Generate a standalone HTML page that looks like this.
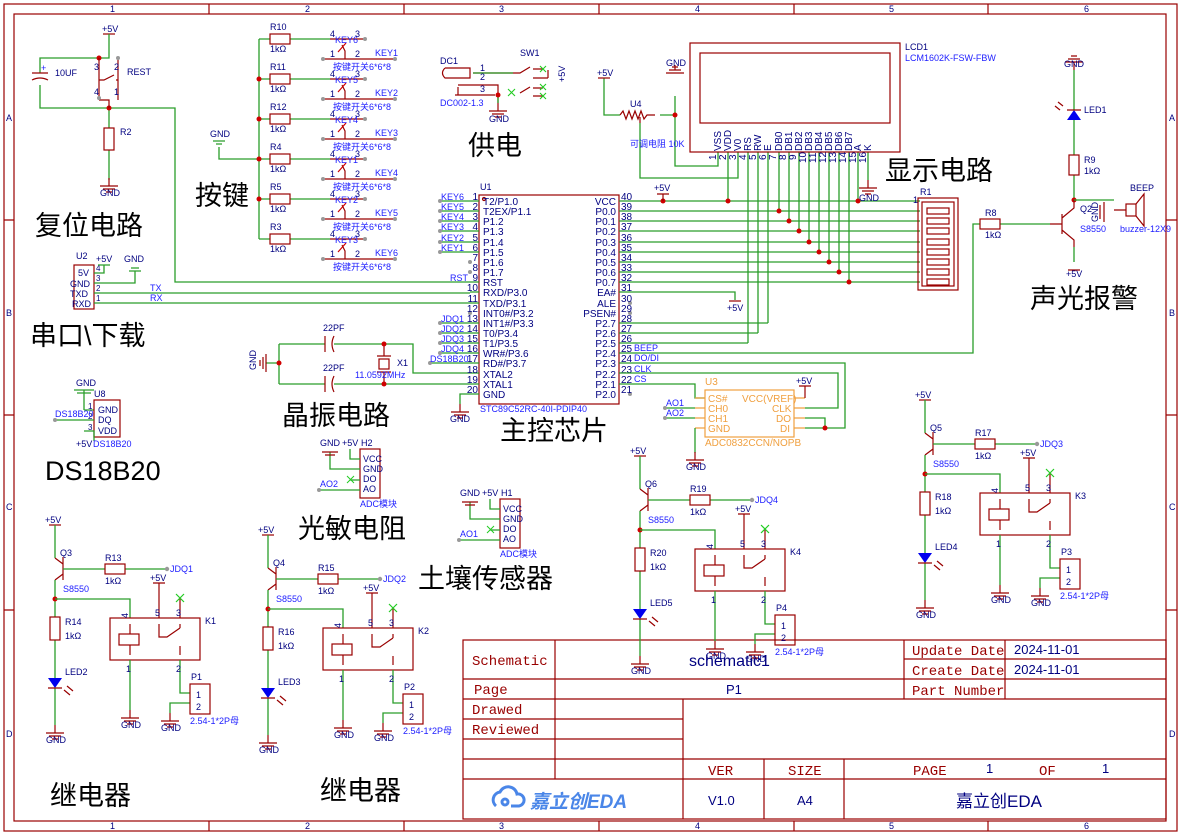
<!DOCTYPE html>
<html><head><meta charset="utf-8">
<style>
html,body{margin:0;padding:0;background:#fff;}
svg{display:block;font-family:"Liberation Sans","Noto Sans CJK SC",sans-serif;}
.w{stroke:#2a9d2a;stroke-width:1.3;fill:none}
.c{stroke:#990000;stroke-width:1.2;fill:none}
.f{stroke:#b02020;stroke-width:1.2;fill:none}
.t{font-size:9px;fill:#000080}
.b{font-size:9px;fill:#2020ff}
.p{font-size:10px;fill:#000080}
.big{font-size:27px;fill:#000;font-family:"Liberation Sans","Noto Sans CJK SC",sans-serif}
.tb{font-family:"Liberation Mono",monospace;font-size:14px;fill:#990000}
.o{stroke:#f0a040;stroke-width:1.2;fill:none}
.ot{font-size:10px;fill:#f0a040}
.dot{fill:#d00000}
.g{fill:#999}
</style></head><body>
<svg width="1181" height="835" viewBox="0 0 1181 835" xmlns="http://www.w3.org/2000/svg">
<defs>
<g id="gnd"><path d="M0,0v8M-9,8h18M-6,11h12M-3,14h6" class="c"/></g>
<g id="rly">
 <path d="M-6,5h12" class="c"/>
 <path d="M0,5v33" class="w"/>
 <path d="M0,38l8,6M8,37v23M8,54l-8,6" class="c"/>
 <path d="M8,49h42M70,49h42" class="w"/>
 <rect x="50" y="44" width="20" height="10" class="c"/>
 <circle cx="112" cy="49" r="2.2" class="g"/>
 <path d="M0,60v37M0,120v38M0,168v37" class="w"/>
 <rect x="-5" y="97" width="10" height="23" class="c"/>
 <polygon points="-7,158 7,158 0,168" fill="#0000ee"/>
 <path d="M-7,168h14M9,170l6,5M12,166l6,5" class="c"/>
 <use href="#gnd" x="0" y="205"/>
 <circle cx="0" cy="79" r="2.5" class="dot"/>
 <path d="M0,79h75v19" class="w"/>
 <rect x="55" y="98" width="90" height="42" class="c"/>
 <rect x="64" y="114" width="20" height="11" class="c"/>
 <path d="M75,104v10M75,125v10M104,104v13h8l13,-9M125,104v4M125,126v9" class="c"/>
 <path d="M104,98v-35M98,63h12" class="c"/>
 <path d="M125,98v-20" class="c"/>
 <path d="M121,74l8,8M129,74l-8,8" stroke="#22cc22" stroke-width="1.2"/>
 <path d="M75,140v50M125,140v33h10M135,183h-20v10" class="w"/>
 <use href="#gnd" x="75" y="190"/>
 <use href="#gnd" x="115" y="193"/>
 <rect x="135" y="164" width="20" height="30" class="c"/>
 <text x="141" y="178" class="t" font-size="10">1</text><text x="141" y="190" class="t" font-size="10">2</text>
 <text x="135" y="204" class="b" font-size="8">2.54-1*2P母</text>
 <text x="-10" y="3" class="t">+5V</text>
 <text x="95" y="61" class="t">+5V</text>
 <text x="8" y="72" class="b">S8550</text>
 <text x="50" y="64" class="t">1kΩ</text>
 <text x="10" y="119" class="t">1kΩ</text>
 <text x="-9" y="223" class="t">GND</text>
 <text x="66" y="208" class="t">GND</text>
 <text x="106" y="211" class="t">GND</text>
 <text x="71" y="96" class="t" transform="rotate(-90 73 96)">4</text>
 <text x="100" y="96" class="t">5</text><text x="121" y="96" class="t">3</text>
 <text x="71" y="152" class="t">1</text><text x="121" y="152" class="t">2</text>
</g>
</defs>

<!-- frame -->
<rect x="4" y="4" width="1173" height="827" class="c"/>
<rect x="14" y="14" width="1152" height="807" class="c"/>
<path d="M209,4v10M404,4v10M599,4v10M794,4v10M988,4v10M209,821v10M404,821v10M599,821v10M794,821v10M988,821v10M4,220h10M4,415h10M4,610h10M1166,220h11M1166,415h11M1166,610h11" class="c"/>
<g class="t" font-size="8" fill="#600">
<text x="110" y="12">1</text><text x="305" y="12">2</text><text x="499" y="12">3</text><text x="695" y="12">4</text><text x="889" y="12">5</text><text x="1084" y="12">6</text>
<text x="110" y="829">1</text><text x="305" y="829">2</text><text x="499" y="829">3</text><text x="695" y="829">4</text><text x="889" y="829">5</text><text x="1084" y="829">6</text>
<text x="6" y="121">A</text><text x="6" y="316">B</text><text x="6" y="510">C</text><text x="6" y="737">D</text>
<text x="1169" y="121">A</text><text x="1169" y="316">B</text><text x="1169" y="510">C</text><text x="1169" y="737">D</text>
</g>

<!-- title block -->
<g class="c">
<rect x="463" y="640" width="703" height="179"/>
<path d="M904,659h262M463,679h703M463,699h703M463,719h220M463,739h220M463,759h703M463,779h703M555,640v139M904,640v59M1005,640v59M683,699v120M764,759v60M844,759v60"/>
</g>
<text x="472" y="665" class="tb">Schematic</text>
<text x="474" y="694" class="tb">Page</text>
<text x="472" y="714" class="tb">Drawed</text>
<text x="472" y="734" class="tb">Reviewed</text>
<text x="912" y="655" class="tb">Update Date</text>
<text x="912" y="675" class="tb">Create Date</text>
<text x="912" y="695" class="tb">Part Number</text>
<text x="708" y="775" class="tb">VER</text>
<text x="788" y="775" class="tb">SIZE</text>
<text x="913" y="775" class="tb">PAGE</text>
<text x="1039" y="775" class="tb">OF</text>
<text x="986" y="773" font-size="13" fill="#000080">1</text>
<text x="1102" y="773" font-size="13" fill="#000080">1</text>
<text x="1014" y="654" font-size="13" fill="#000080">2024-11-01</text>
<text x="1014" y="674" font-size="13" fill="#000080">2024-11-01</text>
<text x="689" y="666" font-size="16" fill="#000080">schematic1</text>
<text x="726" y="694" font-size="13" fill="#000080">P1</text>
<text x="708" y="805" font-size="13" fill="#000080">V1.0</text>
<text x="797" y="805" font-size="13" fill="#000080">A4</text>
<text x="956" y="807" font-size="17" fill="#000080">嘉立创EDA</text>
<g fill="none" stroke="#4a86e8" stroke-width="3"><path d="M496,806a8,8 0 0 1 4,-14a9,9 0 0 1 17,2a6,6 0 0 1 2,12h-8"/><circle cx="505" cy="802" r="3"/></g>
<text x="530" y="808" font-size="19" font-weight="bold" fill="#4a86e8" font-style="italic">嘉立创EDA</text>

<!-- big labels -->
<text x="35" y="235" class="big">复位电路</text>
<text x="195" y="205" class="big">按键</text>
<text x="468" y="155" class="big">供电</text>
<text x="885" y="180" class="big">显示电路</text>
<text x="1030" y="308" class="big">声光报警</text>
<text x="30" y="345" class="big">串口\下载</text>
<text x="282" y="425" class="big">晶振电路</text>
<text x="500" y="440" class="big">主控芯片</text>
<text x="45" y="480" class="big" font-size="25">DS18B20</text>
<text x="298" y="538" class="big">光敏电阻</text>
<text x="418" y="588" class="big">土壤传感器</text>
<text x="50" y="805" class="big">继电器</text>
<text x="320" y="800" class="big">继电器</text>

<!-- reset circuit -->
<text x="102" y="32" class="t">+5V</text>
<path d="M103,34h12" class="c"/>
<path d="M109,34v24H40v15M40,85v23H175v174H470M109,108v20M109,150v30" class="w"/>
<path d="M32,73h16M32,80q8,-4 16,0" class="c"/>
<text x="41" y="71" class="b" font-size="8" fill="#900">+</text>
<text x="55" y="76" class="t">10UF</text>
<circle cx="99" cy="58" r="2.5" class="dot"/><circle cx="109" cy="108" r="2.5" class="dot"/>
<path d="M99,58v42M118,58v42M99,80h5l10,-5M118,80h-2M99,100h10v8" class="c"/>
<circle cx="118" cy="58" r="2" class="g"/><circle cx="99" cy="98" r="2" class="g"/>
<text x="94" y="70" class="t" font-size="8">3</text><text x="94" y="95" class="t" font-size="8">4</text>
<text x="114" y="70" class="t" font-size="8">2</text><text x="114" y="95" class="t" font-size="8">1</text>
<text x="127" y="75" class="t">REST</text>
<rect x="104" y="128" width="10" height="22" class="c"/>
<text x="120" y="135" class="t">R2</text>
<use href="#gnd" x="109" y="178"/><text x="100" y="196" class="t">GND</text>

<!-- keys -->
<text x="210" y="137" class="t">GND</text>
<path d="M213,141h12M216,144h6M219,147v12H259M259,39v200" class="w"/>
<g id="key">
<path d="M259,39h11M290,39h40" class="w"/>
<rect x="270" y="34" width="20" height="10" class="c"/>
<text x="270" y="30" class="t">R10</text><text x="270" y="52" class="t">1kΩ</text>
<path d="M330,39h35M323,59h72M345,59v-8l-3,-6" class="c"/>
<path d="M338,52l8,-9" stroke="#c00" stroke-width="1.2"/>
<circle cx="365" cy="39" r="2" class="g"/><circle cx="323" cy="59" r="2" class="g"/><circle cx="395" cy="59" r="2" class="g"/>
<text x="330" y="37" class="t" font-size="8">4</text><text x="355" y="37" class="t" font-size="8">3</text>
<text x="330" y="57" class="t" font-size="8">1</text><text x="355" y="57" class="t" font-size="8">2</text>
<text x="333" y="70" class="b" font-size="8">按键开关6*6*8</text>
</g>
<use href="#key" y="40"/><use href="#key" y="80"/><use href="#key" y="120"/><use href="#key" y="160"/><use href="#key" y="200"/>
<g fill="#fff"><rect x="269" y="63" width="22" height="10"/><rect x="269" y="103" width="22" height="10"/><rect x="269" y="143" width="22" height="10"/><rect x="269" y="183" width="22" height="10"/><rect x="269" y="223" width="22" height="10"/></g>
<g class="t"><text x="270" y="70">R11</text><text x="270" y="110">R12</text><text x="270" y="150">R4</text><text x="270" y="190">R5</text><text x="270" y="230">R3</text></g>
<g class="b"><text x="335" y="43">KEY6</text><text x="335" y="83">KEY5</text><text x="335" y="123">KEY4</text><text x="335" y="163">KEY1</text><text x="335" y="203">KEY2</text><text x="335" y="243">KEY3</text>
<text x="375" y="56">KEY1</text><text x="375" y="96">KEY2</text><text x="375" y="136">KEY3</text><text x="375" y="176">KEY4</text><text x="375" y="216">KEY5</text><text x="375" y="256">KEY6</text></g>
<g class="dot"><circle cx="259" cy="79" r="2.5"/><circle cx="259" cy="119" r="2.5"/><circle cx="259" cy="159" r="2.5"/><circle cx="259" cy="199" r="2.5"/></g>

<!-- power -->
<text x="440" y="64" class="t">DC1</text>
<path d="M445,68h25v10h-25q-5,-5 0,-10M470,68v10M473,73h40M458,85h40v18M455,95h40M458,87v8" class="c"/>
<path d="M473,73h40M498,103v-8" class="w"/>
<circle cx="498" cy="95" r="2.5" class="dot"/>
<use href="#gnd" x="498" y="103"/><text x="489" y="122" class="t">GND</text>
<text x="440" y="106" class="b">DC002-1.3</text>
<text x="480" y="71" class="t" font-size="8">1</text><text x="480" y="80" class="t" font-size="8">2</text><text x="480" y="92" class="t" font-size="8">3</text>
<text x="520" y="56" class="t">SW1</text>
<path d="M513,73h7l10,-6M533,69h10M533,78h15M533,88h10M533,96h10M520,93l10,-6M548,78v-8M548,78v-8" class="c"/>
<g stroke="#22cc22" stroke-width="1.1"><path d="M540,66l6,6M546,66l-6,6M540,84l6,6M546,84l-6,6M540,93l6,6M546,93l-6,6M508,89l7,7M515,89l-7,7"/></g>
<text x="565" y="82" class="t" transform="rotate(-90 565 82)">+5V</text>

<!-- U2 -->
<text x="76" y="259" class="t">U2</text>
<rect x="74" y="265" width="20" height="44" class="c"/>
<g class="t" font-size="9"><text x="78" y="276">5V</text><text x="70" y="287">GND</text><text x="70" y="297">TXD</text><text x="72" y="307">RXD</text>
<text x="96" y="271" font-size="8">4</text><text x="96" y="281" font-size="8">3</text><text x="96" y="291" font-size="8">2</text><text x="96" y="301" font-size="8">1</text>
<text x="96" y="262">+5V</text><text x="124" y="262">GND</text></g>
<path d="M94,273h10v-8M98,265h12M94,283h41v-12M129,271h12M131,268h8" class="w"/>
<path d="M94,293h376M94,303h376" class="w"/>
<text x="150" y="291" class="b">TX</text><text x="150" y="301" class="b">RX</text>

<!-- crystal -->
<path d="M279,344h46M334,344h79v29h57M279,384h46M334,384h136M279,344v40M266,363h13" class="w"/>
<path d="M325,336v16M334,336q-4,8 0,16M325,376v16M334,376q-4,8 0,16" class="c"/>
<path d="M266,354v18M263,357v12M260,360v6M384,344v12M384,372v12M377,356h14M377,372h14" class="c"/>
<rect x="379" y="359" width="10" height="10" class="c"/>
<g class="dot"><circle cx="279" cy="363" r="2.5"/><circle cx="384" cy="344" r="2.5"/><circle cx="384" cy="384" r="2.5"/></g>
<text x="323" y="331" class="t">22PF</text><text x="323" y="371" class="t">22PF</text>
<text x="397" y="366" class="t">X1</text><text x="355" y="378" class="b">11.0592MHz</text>
<text x="256" y="370" class="t" transform="rotate(-90 256 370)">GND</text>

<!-- U1 -->
<text x="480" y="190" class="t">U1</text>
<rect x="479" y="195" width="140" height="209" class="c"/>
<circle cx="484" cy="199" r="1.5" class="c"/>
<g class="w"><path d="M440,201h39M440,211h39M440,221h39M440,231h39M440,242h39M440,252h39M470,282h9M470,292h9M470,303h9M440,323h39M440,333h39M440,343h39M440,353h39M430,363h49M470,373h9M470,384h9M460,404v-10h19"/></g>
<g class="g"><circle cx="440" cy="201" r="2"/><circle cx="440" cy="211" r="2"/><circle cx="440" cy="221" r="2"/><circle cx="440" cy="231" r="2"/><circle cx="440" cy="242" r="2"/><circle cx="440" cy="252" r="2"/><circle cx="470" cy="262" r="2"/><circle cx="470" cy="272" r="2"/><circle cx="470" cy="313" r="2"/><circle cx="440" cy="323" r="2"/><circle cx="440" cy="333" r="2"/><circle cx="440" cy="343" r="2"/><circle cx="440" cy="353" r="2"/><circle cx="430" cy="363" r="2"/><circle cx="630" cy="303" r="2"/><circle cx="630" cy="313" r="2"/><circle cx="630" cy="394" r="2"/></g>
<g class="b"><text x="441" y="200">KEY6</text><text x="441" y="210">KEY5</text><text x="441" y="220">KEY4</text><text x="441" y="230">KEY3</text><text x="441" y="241">KEY2</text><text x="441" y="251">KEY1</text><text x="450" y="281">RST</text><text x="441" y="322">JDQ1</text><text x="441" y="332">JDQ2</text><text x="441" y="342">JDQ3</text><text x="441" y="352">JDQ4</text><text x="430" y="362">DS18B20</text></g>
<g class="p" font-size="10">
<text x="483" y="205">T2/P1.0</text><text x="483" y="215">T2EX/P1.1</text><text x="483" y="225">P1.2</text><text x="483" y="235">P1.3</text><text x="483" y="246">P1.4</text><text x="483" y="256">P1.5</text><text x="483" y="266">P1.6</text><text x="483" y="276">P1.7</text><text x="483" y="286">RST</text><text x="483" y="296">RXD/P3.0</text><text x="483" y="307">TXD/P3.1</text><text x="483" y="317">INT0#/P3.2</text><text x="483" y="327">INT1#/P3.3</text><text x="483" y="337">T0/P3.4</text><text x="483" y="347">T1/P3.5</text><text x="483" y="357">WR#/P3.6</text><text x="483" y="367">RD#/P3.7</text><text x="483" y="378">XTAL2</text><text x="483" y="388">XTAL1</text><text x="483" y="398">GND</text>
</g>
<g class="p" font-size="10" text-anchor="end">
<text x="616" y="205">VCC</text><text x="616" y="215">P0.0</text><text x="616" y="225">P0.1</text><text x="616" y="235">P0.2</text><text x="616" y="246">P0.3</text><text x="616" y="256">P0.4</text><text x="616" y="266">P0.5</text><text x="616" y="276">P0.6</text><text x="616" y="286">P0.7</text><text x="616" y="296">EA#</text><text x="616" y="307">ALE</text><text x="616" y="317">PSEN#</text><text x="616" y="327">P2.7</text><text x="616" y="337">P2.6</text><text x="616" y="347">P2.5</text><text x="616" y="357">P2.4</text><text x="616" y="367">P2.3</text><text x="616" y="378">P2.2</text><text x="616" y="388">P2.1</text><text x="616" y="398">P2.0</text>
</g>
<g class="p" font-size="9" text-anchor="end">
<text x="478" y="200">1</text><text x="478" y="210">2</text><text x="478" y="220">3</text><text x="478" y="230">4</text><text x="478" y="241">5</text><text x="478" y="251">6</text><text x="478" y="261">7</text><text x="478" y="271">8</text><text x="478" y="281">9</text><text x="478" y="291">10</text><text x="478" y="302">11</text><text x="478" y="312">12</text><text x="478" y="322">13</text><text x="478" y="332">14</text><text x="478" y="342">15</text><text x="478" y="352">16</text><text x="478" y="362">17</text><text x="478" y="373">18</text><text x="478" y="383">19</text><text x="478" y="393">20</text>
</g>
<g class="p" font-size="9">
<text x="621" y="200">40</text><text x="621" y="210">39</text><text x="621" y="220">38</text><text x="621" y="230">37</text><text x="621" y="241">36</text><text x="621" y="251">35</text><text x="621" y="261">34</text><text x="621" y="271">33</text><text x="621" y="281">32</text><text x="621" y="291">31</text><text x="621" y="302">30</text><text x="621" y="312">29</text><text x="621" y="322">28</text><text x="621" y="332">27</text><text x="621" y="342">26</text><text x="621" y="352">25</text><text x="621" y="362">24</text><text x="621" y="373">23</text><text x="621" y="383">22</text><text x="621" y="393">21</text>
</g>
<text x="480" y="412" class="b">STC89C52RC-40I-PDIP40</text>
<use href="#gnd" x="460" y="404"/><text x="450" y="422" class="t">GND</text>
<g class="b"><text x="634" y="351">BEEP</text><text x="634" y="361">DO/DI</text><text x="634" y="372">CLK</text><text x="634" y="382">CS</text></g>

<!-- right side wires -->
<g class="w">
<path d="M619,201h301M619,211h301M619,221h301M619,231h301M619,242h301M619,252h301M619,262h301M619,272h301M619,282h301"/>
<path d="M619,292h116v8M619,323h149M619,333h139M619,343h129M768,152v171M758,152v181M748,152v191"/>
<path d="M619,353h354V224h7M1000,224h50M619,363h226v65h-40M619,373h219v35h-33M619,384h76v14h10M805,418h20v10"/>
<path d="M718,152v14h-43v-70M728,152v49M738,152v26h-98v-55M858,152v49M868,152v28"/>
<path d="M779,152v59M789,152v69M799,152v79M809,152v90M819,152v100M829,152v110M839,152v120M849,152v130"/>
<path d="M604,78v37h16M660,115h15"/>
</g>
<g class="dot"><circle cx="663" cy="201" r="2.5"/><circle cx="728" cy="201" r="2.5"/><circle cx="858" cy="201" r="2.5"/>
<circle cx="779" cy="211" r="2.5"/><circle cx="789" cy="221" r="2.5"/><circle cx="799" cy="231" r="2.5"/><circle cx="809" cy="242" r="2.5"/><circle cx="819" cy="252" r="2.5"/><circle cx="829" cy="262" r="2.5"/><circle cx="839" cy="272" r="2.5"/><circle cx="849" cy="282" r="2.5"/><circle cx="675" cy="115" r="2.5"/><circle cx="825" cy="428" r="2.5"/></g>
<text x="654" y="191" class="t">+5V</text><path d="M657,194h12M663,194v7" class="c"/>
<path d="M729,301h12" class="c"/><text x="727" y="311" class="t">+5V</text>

<!-- LCD -->
<rect x="690" y="43" width="210" height="109" class="c"/>
<rect x="700" y="53" width="190" height="70" class="c"/>
<text x="905" y="50" class="t">LCD1</text>
<text x="905" y="61" class="b">LCM1602K-FSW-FBW</text>
<g class="p" font-size="8">
<text transform="translate(721,151) rotate(-90)">VSS</text><text transform="translate(731,151) rotate(-90)">VDD</text><text transform="translate(741,151) rotate(-90)">V0</text><text transform="translate(751,151) rotate(-90)">RS</text><text transform="translate(761,151) rotate(-90)">RW</text><text transform="translate(771,151) rotate(-90)">E</text><text transform="translate(782,151) rotate(-90)">DB0</text><text transform="translate(792,151) rotate(-90)">DB1</text><text transform="translate(802,151) rotate(-90)">DB2</text><text transform="translate(812,151) rotate(-90)">DB3</text><text transform="translate(822,151) rotate(-90)">DB4</text><text transform="translate(832,151) rotate(-90)">DB5</text><text transform="translate(842,151) rotate(-90)">DB6</text><text transform="translate(852,151) rotate(-90)">DB7</text><text transform="translate(861,151) rotate(-90)">A</text><text transform="translate(871,151) rotate(-90)">K</text>
<text transform="translate(716,160) rotate(-90)">1</text><text transform="translate(726,160) rotate(-90)">2</text><text transform="translate(736,160) rotate(-90)">3</text><text transform="translate(746,160) rotate(-90)">4</text><text transform="translate(756,160) rotate(-90)">5</text><text transform="translate(766,160) rotate(-90)">6</text><text transform="translate(776,160) rotate(-90)">7</text><text transform="translate(786,160) rotate(-90)">8</text><text transform="translate(796,160) rotate(-90)">9</text><text transform="translate(806,163) rotate(-90)">10</text><text transform="translate(816,163) rotate(-90)">11</text><text transform="translate(826,163) rotate(-90)">12</text><text transform="translate(836,163) rotate(-90)">13</text><text transform="translate(846,163) rotate(-90)">14</text><text transform="translate(856,163) rotate(-90)">15</text><text transform="translate(866,163) rotate(-90)">16</text>
</g>
<use href="#gnd" x="868" y="180"/><text x="859" y="201" class="t">GND</text>
<path d="M669,70h12M672,67h6M675,70v-5" class="c"/><path d="M666,73h18" class="c"/>
<text x="666" y="66" class="t">GND</text>
<text x="597" y="76" class="t">+5V</text><path d="M598,78h12" class="c"/>
<path d="M620,115l3,-4l3,8l3,-8l3,8l3,-8l3,8l3,-8l3,8l3,-4h8M640,123v-6" class="c"/>
<text x="630" y="107" class="t">U4</text>
<text x="630" y="147" class="b">可调电阻 10K</text>

<!-- R1 network -->
<rect x="918" y="198" width="40" height="92" class="c"/>
<rect x="922" y="202" width="32" height="84" class="c"/>
<g class="c"><rect x="927" y="208" width="22" height="6"/><rect x="927" y="218" width="22" height="6"/><rect x="927" y="228" width="22" height="6"/><rect x="927" y="239" width="22" height="6"/><rect x="927" y="249" width="22" height="6"/><rect x="927" y="259" width="22" height="6"/><rect x="927" y="269" width="22" height="6"/><rect x="927" y="279" width="22" height="6"/></g>
<text x="920" y="195" class="t">R1</text><text x="913" y="203" class="t" font-size="8">1</text>

<!-- alarm -->
<use href="#gnd" x="1074" y="70" transform="rotate(180 1074 70)"/>
<text x="1064" y="67" class="t">GND</text>
<path d="M1074,70v40M1074,120v35M1074,175v25M1074,247v15" class="w"/>
<polygon points="1067,110 1081,110 1074,120" transform="rotate(180 1074 115)" fill="#0000ee"/>
<path d="M1067,110h14M1060,110l-5,-4M1063,106l-5,-4" class="c"/>
<text x="1084" y="113" class="t">LED1</text>
<rect x="1069" y="155" width="10" height="20" class="c"/>
<text x="1084" y="163" class="t">R9</text><text x="1084" y="174" class="t">1kΩ</text>
<circle cx="1074" cy="200" r="2.5" class="dot"/>
<path d="M1050,224h12M1062,214v20M1062,218l12,-10v-8M1062,230l12,10v7M1068,270h12" class="c"/>
<path d="M1074,200h40" class="w"/>
<rect x="1126" y="204" width="10" height="12" class="c"/><path d="M1136,204l8,-10v32l-8,-10M1100,205v14M1104,202v20M1114,210h12" class="c"/>
<text x="1080" y="212" class="t">Q2</text><text x="1080" y="232" class="b">S8550</text>
<text x="1120" y="232" class="b">buzzer-12X9</text><text x="1130" y="191" class="t">BEEP</text>
<text transform="translate(1098,222) rotate(-90)" class="t">GND</text>
<text x="1066" y="277" class="t">+5V</text>
<rect x="980" y="219" width="20" height="10" class="c"/>
<text x="985" y="216" class="t">R8</text><text x="985" y="238" class="t">1kΩ</text>

<!-- U3 ADC -->
<rect x="705" y="390" width="89" height="47" class="o"/>
<path d="M695,398h10M695,408h10M695,418h10M695,428h10M794,398h11M794,408h11M794,418h11M794,428h11" class="o"/>
<text x="705" y="385" class="ot">U3</text>
<g class="ot" font-size="9"><text x="708" y="402">CS#</text><text x="708" y="412">CH0</text><text x="708" y="422">CH1</text><text x="708" y="432">GND</text><text x="742" y="402">VCC(VREF)</text><text x="772" y="412">CLK</text><text x="776" y="422">DO</text><text x="780" y="432">DI</text><text x="705" y="446">ADC0832CCN/NOPB</text></g>
<path d="M665,408h30M665,418h30M695,428v25" class="w"/>
<circle cx="665" cy="408" r="2" class="g"/><circle cx="665" cy="418" r="2" class="g"/>
<text x="666" y="406" class="b">AO1</text><text x="666" y="416" class="b">AO2</text>
<use href="#gnd" x="695" y="452"/><text x="686" y="470" class="t">GND</text>
<path d="M805,398v-12M799,386h12" class="c"/><text x="796" y="384" class="t">+5V</text>

<!-- DS18B20 -->
<text x="76" y="386" class="t">GND</text><path d="M74,390h20M77,393h14M84,393v6M84,410h10M84,390v20" class="w"/>
<text x="94" y="397" class="t">U8</text>
<rect x="94" y="400" width="26" height="37" class="c"/>
<g class="t"><text x="98" y="413">GND</text><text x="98" y="423">DQ</text><text x="98" y="434">VDD</text><text x="88" y="409" font-size="8">1</text><text x="88" y="419" font-size="8">2</text><text x="88" y="430" font-size="8">3</text></g>
<path d="M55,420h39M84,431h10v10" class="w"/><circle cx="55" cy="420" r="2" class="g"/>
<text x="55" y="417" class="b">DS18B20</text>
<text x="76" y="447" class="t">+5V</text><text x="93" y="447" class="b">DS18B20</text>

<!-- H2 -->
<rect x="360" y="449" width="20" height="49" class="c"/>
<g class="t"><text x="320" y="446">GND</text><text x="342" y="446">+5V</text><text x="361" y="446">H2</text>
<text x="363" y="462">VCC</text><text x="363" y="472">GND</text><text x="363" y="482">DO</text><text x="363" y="492">AO</text></g>
<path d="M350,449v10h10M330,452v17h30M350,480h10M319,490h41" class="w"/>
<path d="M322,452h16M325,455h10" class="c"/>
<path d="M347,476l7,7M354,476l-7,7" stroke="#22cc22"/>
<circle cx="319" cy="490" r="2" class="g"/><text x="320" y="487" class="b">AO2</text>
<text x="360" y="507" class="b">ADC模块</text>
<!-- H1 -->
<rect x="500" y="499" width="20" height="49" class="c"/>
<g class="t"><text x="460" y="496">GND</text><text x="482" y="496">+5V</text><text x="501" y="496">H1</text>
<text x="503" y="512">VCC</text><text x="503" y="522">GND</text><text x="503" y="532">DO</text><text x="503" y="542">AO</text></g>
<path d="M490,499v10h10M470,502v17h30M490,530h10M459,540h41" class="w"/>
<path d="M462,502h16M465,505h10" class="c"/>
<path d="M487,526l7,7M494,526l-7,7" stroke="#22cc22"/>
<circle cx="459" cy="540" r="2" class="g"/><text x="460" y="537" class="b">AO1</text>
<text x="500" y="557" class="b">ADC模块</text>

<!-- relays -->
<use href="#rly" transform="translate(55,520)"/>
<use href="#rly" transform="translate(268,530)"/>
<use href="#rly" transform="translate(640,451)"/>
<use href="#rly" transform="translate(925,395)"/>
<g transform="translate(55,520)" class="t"><text x="5" y="36">Q3</text><text x="50" y="41">R13</text><text x="115" y="52" class="b">JDQ1</text><text x="10" y="105">R14</text><text x="10" y="155">LED2</text><text x="150" y="104">K1</text><text x="136" y="160">P1</text></g>
<g transform="translate(268,530)" class="t"><text x="5" y="36">Q4</text><text x="50" y="41">R15</text><text x="115" y="52" class="b">JDQ2</text><text x="10" y="105">R16</text><text x="10" y="155">LED3</text><text x="150" y="104">K2</text><text x="136" y="160">P2</text></g>
<g transform="translate(640,451)" class="t"><text x="5" y="36">Q6</text><text x="50" y="41">R19</text><text x="115" y="52" class="b">JDQ4</text><text x="10" y="105">R20</text><text x="10" y="155">LED5</text><text x="150" y="104">K4</text><text x="136" y="160">P4</text></g>
<g transform="translate(925,395)" class="t"><text x="5" y="36">Q5</text><text x="50" y="41">R17</text><text x="115" y="52" class="b">JDQ3</text><text x="10" y="105">R18</text><text x="10" y="155">LED4</text><text x="150" y="104">K3</text><text x="136" y="160">P3</text></g>
</svg>
</body></html>
